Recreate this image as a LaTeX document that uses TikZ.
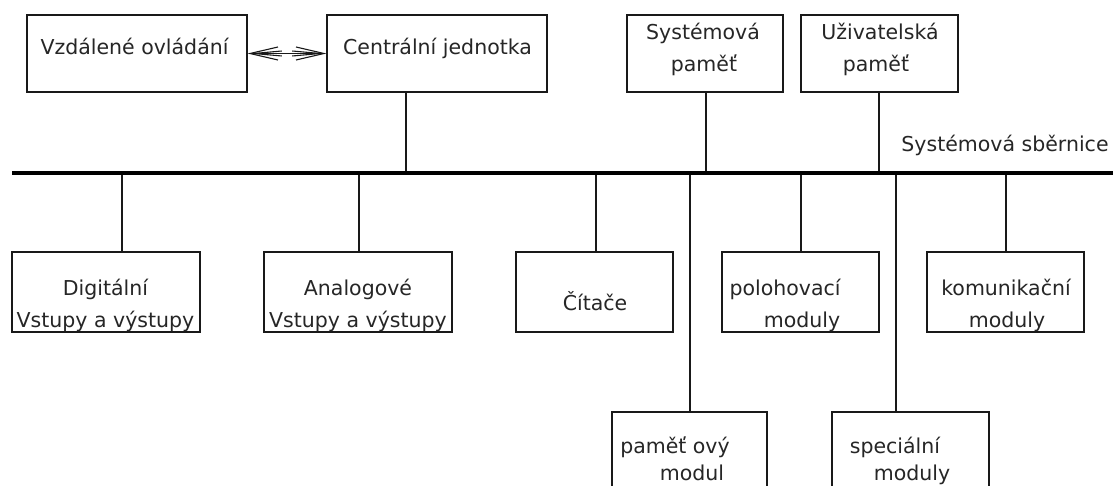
\documentclass[tikz,border=0pt]{standalone}
\usepackage{fontspec}
\setmainfont{DejaVu Sans}
\usetikzlibrary{arrows.meta}
\tikzset{
  box/.style={draw=black!90, line width=1.1pt, rectangle, inner sep=0pt, fill=white},
  txt/.style={inner sep=0pt, anchor=base, text=black!85, font=\fontsize{20.5}{31}\selectfont},
  wire/.style={draw=black!90, line width=1.1pt},
  bus/.style={draw=black, line width=4.5pt},
  arrA/.style={wire, {Straight Barb[length=28pt,width=13pt]}-{Straight Barb[length=28pt,width=13pt]}},
  arrB/.style={wire, {Straight Barb[length=28pt,width=5pt]}-{Straight Barb[length=28pt,width=5pt]}}
}
\begin{document}
\begin{tikzpicture}[x=1pt,y=-1pt]
\useasboundingbox (0,0) rectangle (1113,486);
\clip (0,0) rectangle (1113,486);
% bus
\coordinate (busL) at (12,173);
\coordinate (busR) at (1113,173);
% top boxes
\node[box, minimum width=220pt, minimum height=77pt] (vzd) at (137,53.5) {};
\node[box, minimum width=220pt, minimum height=77pt] (cen) at (437,53.5) {};
\node[box, minimum width=156pt, minimum height=77pt] (sys) at (705,53.5) {};
\node[box, minimum width=157pt, minimum height=77pt] (uzi) at (879.5,53.5) {};
% lower boxes
\node[box, minimum width=188pt, minimum height=80pt] (dig) at (106,292) {};
\node[box, minimum width=188pt, minimum height=80pt] (ana) at (358,292) {};
\node[box, minimum width=157pt, minimum height=80pt] (cit) at (594.5,292) {};
\node[box, minimum width=157pt, minimum height=80pt] (pol) at (800.5,292) {};
\node[box, minimum width=157pt, minimum height=80pt] (kom) at (1005.5,292) {};
\node[box, minimum width=155pt, minimum height=80pt] (pam) at (689.5,452) {};
\node[box, minimum width=157pt, minimum height=80pt] (spe) at (910.5,452) {};
% taps on the bus
\coordinate (tcen) at (406,173);
\coordinate (tsys) at (706,173);
\coordinate (tuzi) at (879,173);
\coordinate (tdig) at (122,173);
\coordinate (tana) at (359,173);
\coordinate (tcit) at (596,173);
\coordinate (tpam) at (690,173);
\coordinate (tpol) at (801,173);
\coordinate (tspe) at (896,173);
\coordinate (tkom) at (1006,173);
% connectors
\draw[wire] (tcen |- cen.south) -- (tcen);
\draw[wire] (tsys |- sys.south) -- (tsys);
\draw[wire] (tuzi |- uzi.south) -- (tuzi);
\draw[wire] (tdig) -- (tdig |- dig.north);
\draw[wire] (tana) -- (tana |- ana.north);
\draw[wire] (tcit) -- (tcit |- cit.north);
\draw[wire] (tpam) -- (tpam |- pam.north);
\draw[wire] (tpol) -- (tpol |- pol.north);
\draw[wire] (tspe) -- (tspe |- spe.north);
\draw[wire] (tkom) -- (tkom |- kom.north);
\draw[bus] (busL) -- (busR);
\draw[arrA] (vzd.east) -- (cen.west);
\draw[arrB] (vzd.east) -- (cen.west);
% texts
\node[txt] (l1) at (134.5,55) {Vzdálené ovládání};
\node[txt] (l2) at (437.5,55) {Centrální jednotka};
\node[txt] (l3a) at (703,40) {Systémová};
\node[txt] (l3b) at (704,72) {paměť};
\node[txt] (l4a) at (880,40) {Uživatelská};
\node[txt] (l4b) at (876,72) {paměť};
\node[txt] (lbus) at (1005,152) {Systémová sběrnice};
\node[txt] (l5a) at (105.5,295) {Digitální};
\node[txt] (l5b) at (105.5,327) {Vstupy a výstupy};
\node[txt] (l6a) at (358,295) {Analogové};
\node[txt] (l6b) at (358,327) {Vstupy a výstupy};
\node[txt] (l7) at (595,310) {Čítače};
\node[txt] (l8a) at (785,295) {polohovací};
\node[txt] (l8b) at (802,327) {moduly};
\node[txt] (l9a) at (1006,295) {komunikační};
\node[txt] (l9b) at (1007,327) {moduly};
\node[txt] (l10a) at (675,453) {paměť ový};
\node[txt] (l10b) at (692,480) {modul};
\node[txt] (l11a) at (895,453) {speciální};
\node[txt] (l11b) at (912,480) {moduly};
\end{tikzpicture}
\end{document}
